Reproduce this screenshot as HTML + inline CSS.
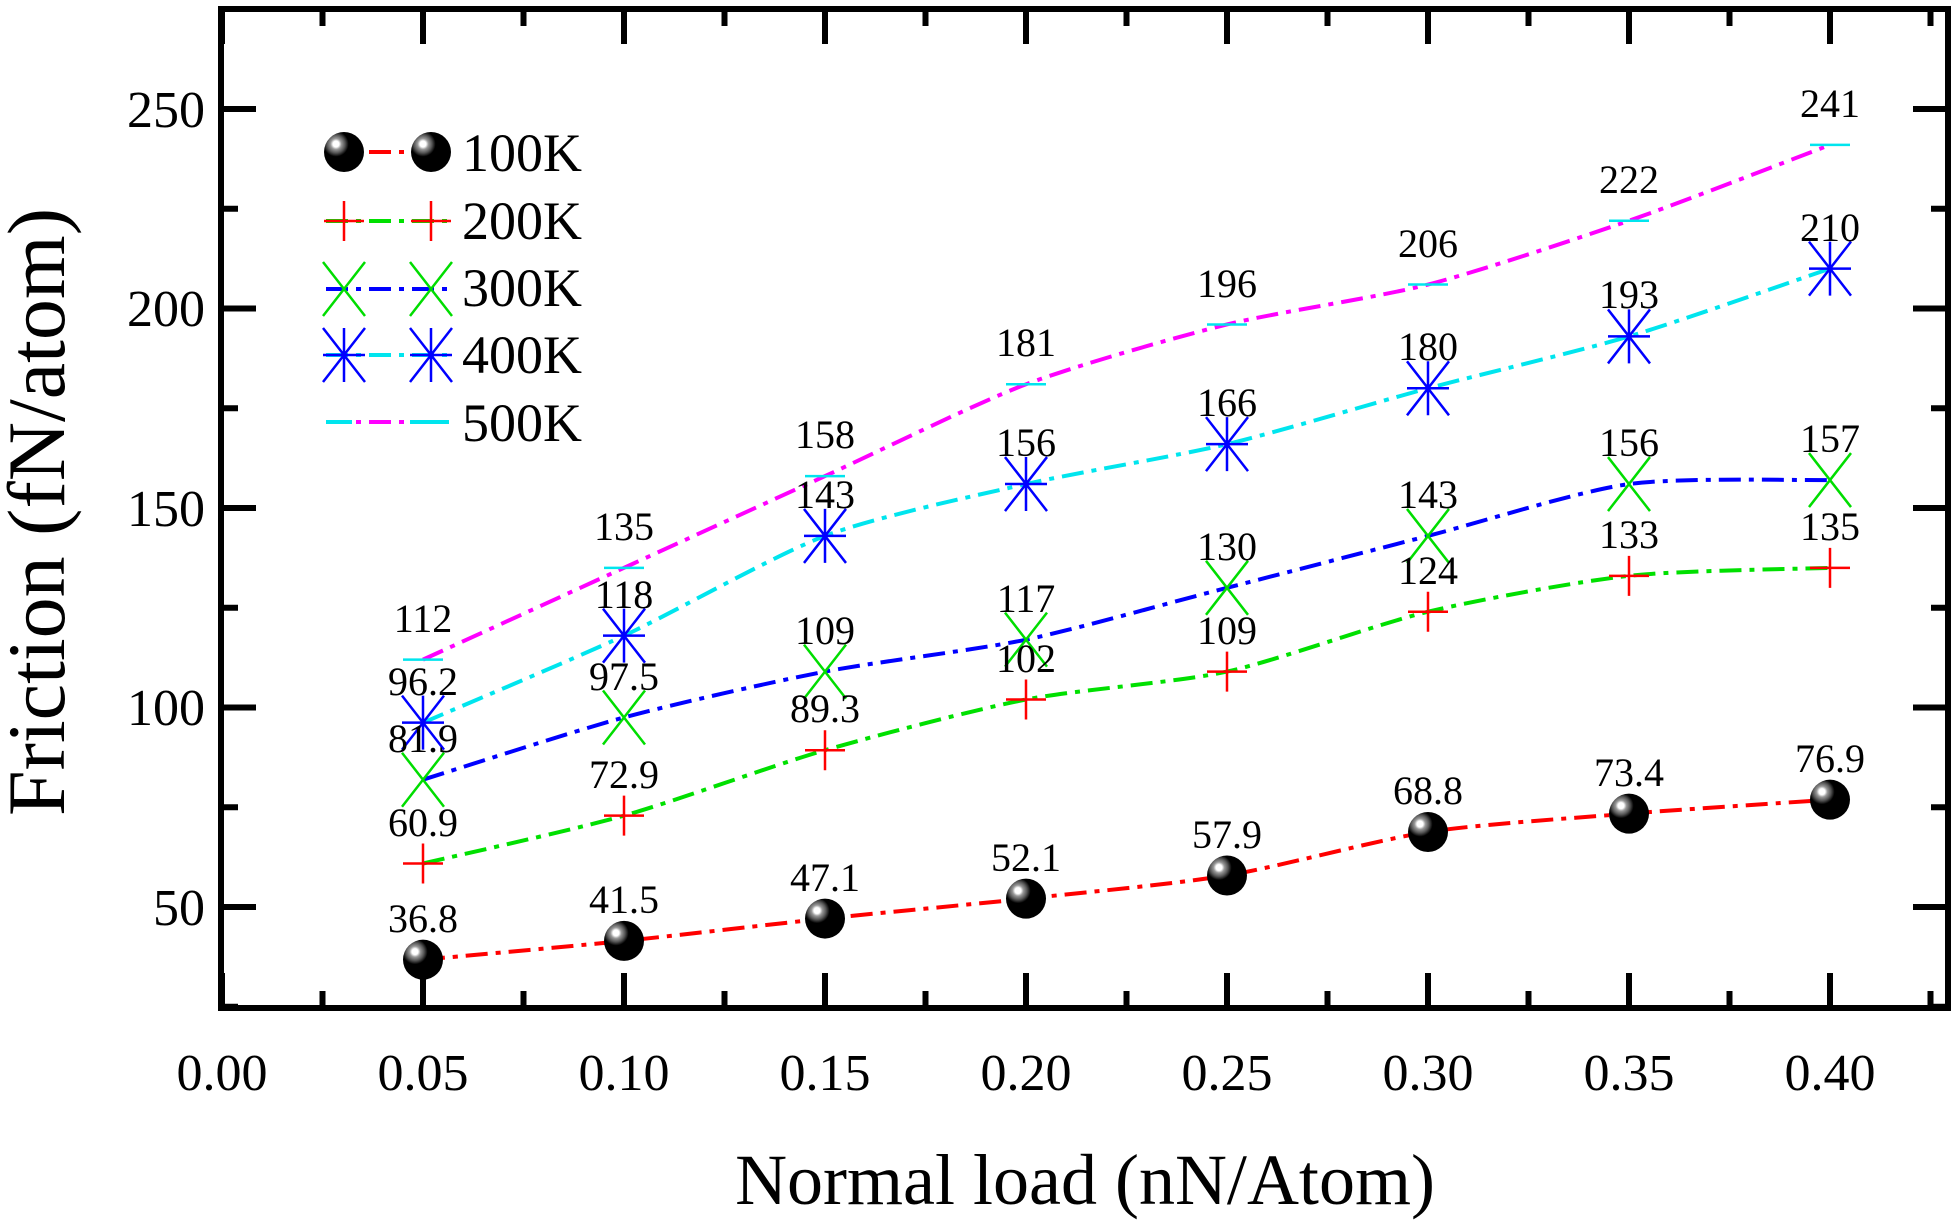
<!DOCTYPE html>
<html><head><meta charset="utf-8"><style>
html,body{margin:0;padding:0;background:#fff}
svg{display:block}
text{font-family:"Liberation Serif",serif;fill:#000}
</style></head><body>
<svg id="s" width="1960" height="1226" viewBox="0 0 1960 1226" xmlns="http://www.w3.org/2000/svg">
<defs>
<radialGradient id="ball" cx="0.3" cy="0.3" r="0.75">
<stop offset="0" stop-color="#fff"/>
<stop offset="0.1" stop-color="#fff"/>
<stop offset="0.18" stop-color="#999"/>
<stop offset="0.3" stop-color="#555"/>
<stop offset="0.42" stop-color="#000"/>
<stop offset="1" stop-color="#000"/>
</radialGradient>
</defs>
<g id="lines"></g>
<g id="marks"></g>
<rect x="221" y="9" width="1727" height="999" fill="none" stroke="#000" stroke-width="6"/>
<g id="ticks" stroke="#000" stroke-width="6"></g>
<g font-size="52" text-anchor="end">
<text x="205" y="127">250</text>
<text x="205" y="326">200</text>
<text x="205" y="526">150</text>
<text x="205" y="725">100</text>
<text x="205" y="925">50</text>
</g>
<g font-size="52" text-anchor="middle">
<text x="222" y="1090">0.00</text>
<text x="423" y="1090">0.05</text>
<text x="624" y="1090">0.10</text>
<text x="825" y="1090">0.15</text>
<text x="1026" y="1090">0.20</text>
<text x="1227" y="1090">0.25</text>
<text x="1428" y="1090">0.30</text>
<text x="1629" y="1090">0.35</text>
<text x="1830" y="1090">0.40</text>
</g>
<text x="1085" y="1204" font-size="72" text-anchor="middle">Normal load (nN/Atom)</text>
<text transform="translate(64,512) rotate(-90)" font-size="82" text-anchor="middle">Friction (fN/atom)</text>
<g font-size="54">
<text x="462" y="171">100K</text>
<text x="462" y="239">200K</text>
<text x="462" y="306">300K</text>
<text x="462" y="373">400K</text>
<text x="462" y="441">500K</text>
</g>
<g font-size="40" text-anchor="middle">
<text x="423" y="932">36.8</text><text x="624" y="913">41.5</text><text x="825" y="891">47.1</text><text x="1026" y="871">52.1</text><text x="1227" y="848">57.9</text><text x="1428" y="804">68.8</text><text x="1629" y="786">73.4</text><text x="1830" y="772">76.9</text>
<text x="423" y="836">60.9</text><text x="624" y="788">72.9</text><text x="825" y="722">89.3</text><text x="1026" y="672">102</text><text x="1227" y="644">109</text><text x="1428" y="584">124</text><text x="1629" y="548">133</text><text x="1830" y="540">135</text>
<text x="423" y="752">81.9</text><text x="624" y="690">97.5</text><text x="825" y="644">109</text><text x="1026" y="612">117</text><text x="1227" y="560">130</text><text x="1428" y="508">143</text><text x="1629" y="456">156</text><text x="1830" y="452">157</text>
<text x="423" y="695">96.2</text><text x="624" y="608">118</text><text x="825" y="508">143</text><text x="1026" y="456">156</text><text x="1227" y="416">166</text><text x="1428" y="360">180</text><text x="1629" y="308">193</text><text x="1830" y="241">210</text>
<text x="423" y="632">112</text><text x="624" y="540">135</text><text x="825" y="448">158</text><text x="1026" y="356">181</text><text x="1227" y="297">196</text><text x="1428" y="257">206</text><text x="1629" y="193">222</text><text x="1830" y="117">241</text>
</g>
</svg>
<script>
(function(){
var NS="http://www.w3.org/2000/svg";
function el(t,a,p){var e=document.createElementNS(NS,t);for(var k in a)e.setAttribute(k,a[k]);p.appendChild(e);return e;}
var X=[423,624,825,1026,1227,1428,1629,1830];
function Y(v){return 1106.5-3.99*v;}
var data=[
[36.8,41.5,47.1,52.1,57.9,68.8,73.4,76.9],
[60.9,72.9,89.3,102,109,124,133,135],
[81.9,97.5,109,117,130,143,156,157],
[96.2,118,143,156,166,180,193,210],
[112,135,158,181,196,206,222,241]];
var lc=["#ff0000","#00e000","#0000ff","#00e5ee","#ff00ff"];
var L=document.getElementById("lines"),M=document.getElementById("marks"),T=document.getElementById("ticks");
var dash="22 8 5 8";
function path(pts){var d="M"+pts[0][0]+","+pts[0][1];
for(var i=0;i<pts.length-1;i++){var p0=pts[Math.max(0,i-1)],p1=pts[i],p2=pts[i+1],p3=pts[Math.min(pts.length-1,i+2)];
d+=" C"+(p1[0]+(p2[0]-p0[0])/8)+","+(p1[1]+(p2[1]-p0[1])/8)+" "+(p2[0]-(p3[0]-p1[0])/8)+","+(p2[1]-(p3[1]-p1[1])/8)+" "+p2[0]+","+p2[1];}
return d;}
function marker(s,x,y){
if(s==0){el("circle",{cx:x,cy:y,r:20,fill:"url(#ball)"},M);}
else if(s==1){el("path",{d:"M"+(x-20)+","+y+"H"+(x+20)+"M"+x+","+(y-20)+"V"+(y+20),stroke:"#ff0000","stroke-width":2.5,fill:"none"},M);}
else if(s==2){el("path",{d:"M"+(x-21)+","+(y-27)+"L"+(x+21)+","+(y+27)+"M"+(x+21)+","+(y-27)+"L"+(x-21)+","+(y+27),stroke:"#00dd00","stroke-width":2.5,fill:"none"},M);}
else if(s==3){el("path",{d:"M"+(x-21)+","+y+"H"+(x+21)+"M"+x+","+(y-27)+"V"+(y+27)+"M"+(x-21)+","+(y-27)+"L"+(x+21)+","+(y+27)+"M"+(x+21)+","+(y-27)+"L"+(x-21)+","+(y+27),stroke:"#0000ff","stroke-width":2.5,fill:"none"},M);}
else {el("path",{d:"M"+(x-20)+","+y+"H"+(x+20),stroke:"#00e5ee","stroke-width":2.5,fill:"none"},M);}
}
data.forEach(function(s,k){
var pts=s.map(function(v,i){return [X[i],Y(v)];});
el("path",{d:path(pts),stroke:lc[k],"stroke-width":4,fill:"none","stroke-dasharray":dash},L);
pts.forEach(function(p){marker(k,p[0],p[1]);});
});
var ly=[152,221,289,355,422];
ly.forEach(function(y,k){
el("path",{d:"M326,"+y+"H449",stroke:lc[k],"stroke-width":4,fill:"none","stroke-dasharray":dash},L);
if(k<4){marker(k,344,y);marker(k,431,y);}
else{el("path",{d:"M326,"+y+"H352M410,"+y+"H449",stroke:"#00e5ee","stroke-width":4},M);}
});
for(var i=0;i<=17;i++){var x=222+100.5*i;if(x>1946)break;var len=(i%2==0)?35:17;
el("line",{x1:x,y1:1008,x2:x,y2:1008-len},T);el("line",{x1:x,y1:9,x2:x,y2:9+len},T);}
for(var v=25;v<=275;v+=25){var y=Y(v);if(y<10||y>1007)continue;var len=(v%50==0)?35:17;
el("line",{x1:221,y1:y,x2:221+len,y2:y},T);el("line",{x1:1948,y1:y,x2:1948-len,y2:y},T);}
})();
</script>
</body></html>
